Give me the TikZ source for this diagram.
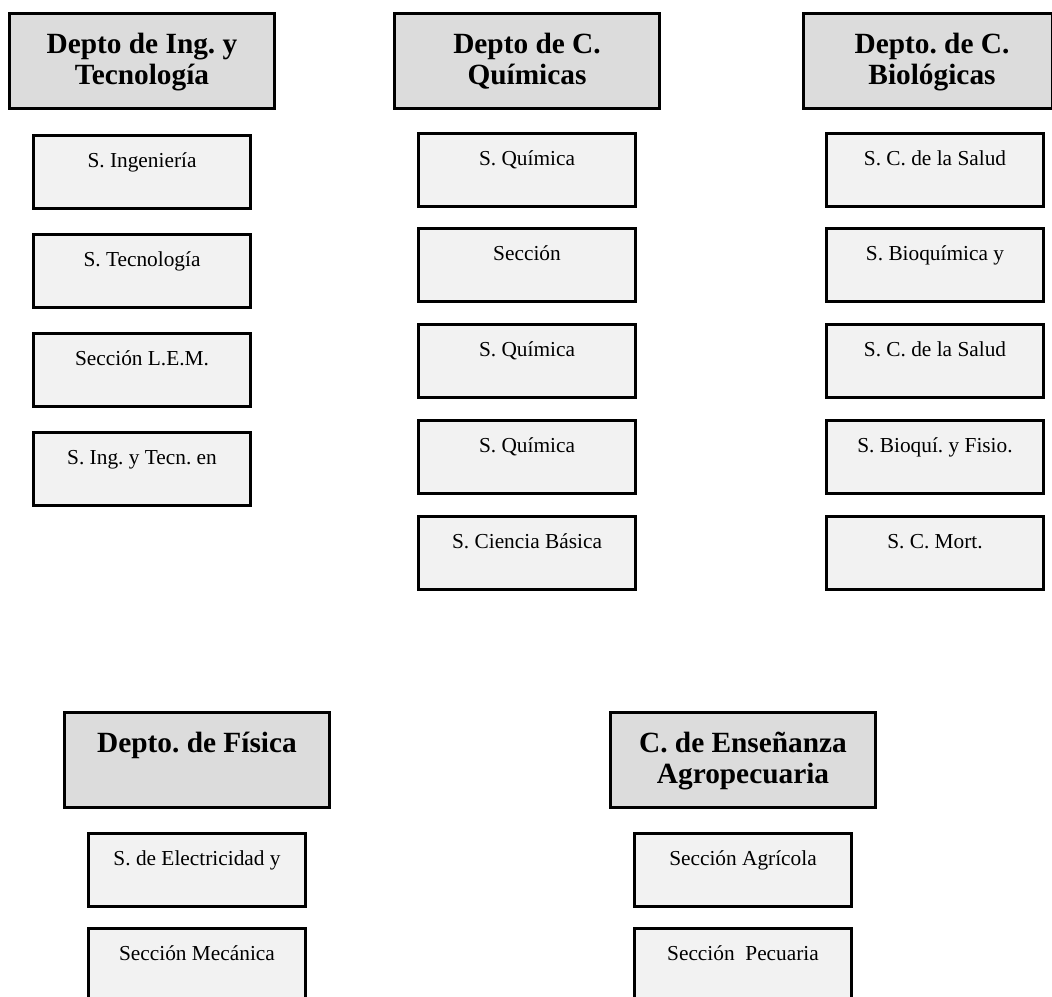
\documentclass[tikz,border=0pt]{standalone}
\usepackage{fontspec}
\setmainfont{Liberation Serif}
\frenchspacing
\definecolor{deptgray}{HTML}{DCDCDC}
\definecolor{sectgray}{HTML}{F2F2F2}
% two-line heading whose baseline is the first line
\newcommand{\hdtwo}[2]{\begin{tabular}[t]{@{}c@{}}#1\\#2\end{tabular}}
\begin{document}
\begin{tikzpicture}[x=0.75pt,y=-0.75pt,
  box/.style={draw=black, line width=2.25pt, rectangle, inner sep=0pt, anchor=north west},
  dept/.style={box, fill=deptgray, minimum width=198.75pt,
    text height=30pt, text depth=41.25pt,
    font=\fontsize{22}{23.5}\selectfont\bfseries},
  sect/.style={box, fill=sectgray, minimum width=162.75pt,
    text height=24pt, text depth=30.75pt,
    font=\fontsize{16}{19}\selectfont}]
\path[use as bounding box, clip] (0,0) rectangle (1052,996);

% Ingeniería y Tecnología
\node[dept] (d1) at (8,12) {\hdtwo{Depto de Ing. y}{Tecnología}};
\node[sect] (s11) at (32,134) {S. Ingeniería};
\node[sect] (s12) at (32,233) {S. Tecnología};
\node[sect] (s13) at (32,332) {Sección L.E.M.};
\node[sect] (s14) at (32,431) {S. Ing. y Tecn. en};

% Ciencias Químicas
\node[dept] (d2) at (393,12) {\hdtwo{Depto de C.}{Químicas}};
\node[sect] (s21) at (417,132) {S. Química};
\node[sect] (s22) at (417,227) {Sección};
\node[sect] (s23) at (417,323) {S. Química};
\node[sect] (s24) at (417,419) {S. Química};
\node[sect] (s25) at (417,515) {S. Ciencia Básica};

% Ciencias Biológicas
\node[dept, minimum width=186.75pt] (d3) at (802,12) {\hspace{6pt}\hdtwo{Depto. de C.}{Biológicas}};
\node[sect] (s31) at (825,132) {S. C. de la Salud};
\node[sect] (s32) at (825,227) {S. Bioquímica y};
\node[sect] (s33) at (825,323) {S. C. de la Salud};
\node[sect] (s34) at (825,419) {S. Bioquí. y Fisio.};
\node[sect] (s35) at (825,515) {S. C. Mort.};

% Física
\node[dept] (d4) at (63,711) {Depto. de Física};
\node[sect] (s41) at (87,832) {S. de Electricidad y};
\node[sect] (s42) at (87,927) {Sección Mecánica};

% Enseñanza Agropecuaria
\node[dept] (d5) at (609,711) {\hdtwo{C. de Enseñanza}{Agropecuaria}};
\node[sect] (s51) at (633,832) {Sección Agrícola};
\node[sect] (s52) at (633,927) {Sección\ \ Pecuaria};
\end{tikzpicture}
\end{document}
